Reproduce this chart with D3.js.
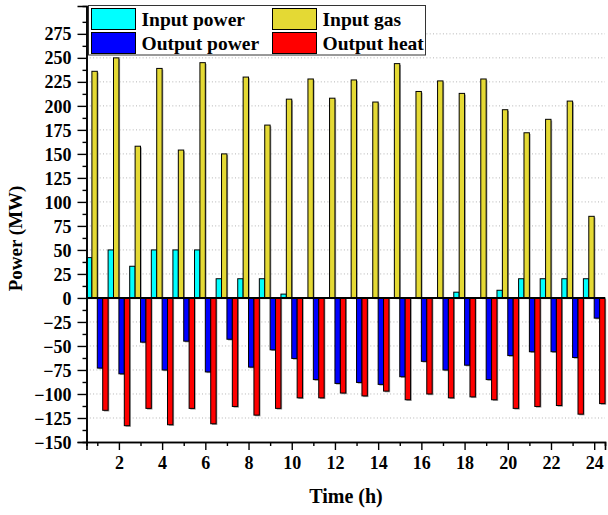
<!DOCTYPE html>
<html>
<head>
<meta charset="utf-8">
<script src="https://cdn.jsdelivr.net/npm/d3@7"></script>
<style>
    body { margin: 0; background: #fff; }
    svg text { font-family: "Liberation Serif", "Times New Roman", serif; font-weight: bold; }
</style>
</head>
<body>
<svg class="chart"></svg>
<script>
// values, one per hour
var hours = d3.range(1, 25);
var inputPower = [42, 50, 33, 50, 50, 50, 20, 20, 20, 4, 0, 0, 0, 0, 0, 0, 0, 6, 0, 8, 20, 20, 20, 20];
var inputGas = [236, 250, 158, 239, 154, 245, 150, 230, 180, 207, 228, 208, 227, 204, 244, 215, 226, 213, 228, 196, 172, 186, 205, 85];
var outputPower = [-73, -79, -46, -75, -45, -77, -43, -72, -54, -63, -85, -89, -88, -90, -82, -66, -75, -70, -85, -60, -56, -56, -62, -21];
var outputHeat = [-117, -133, -115, -132, -115, -131, -113, -122, -115, -104, -104, -99, -102, -97, -106, -100, -104, -103, -106, -115, -113, -112, -121, -110];

var seriesNames = ['Input power', 'Input gas', 'Output power', 'Output heat'];
var seriesColors = ['#00ffff', '#e4d934', '#0000ff', '#ff0000'];
var yTicks = d3.range(-150, 276, 25);
var xTicks = d3.range(2, 25, 2);

function show() {
    'use strict';

    var width = 608, height = 515;
    var svg = d3.select('.chart').attr('width', width).attr('height', height);

    var x = d3.scaleLinear().domain([0.5, 24.5]).range([86.5, 605]);
    var y = d3.scaleLinear().domain([-150, 304]).range([442, 6]);

    var series = [inputPower, inputGas, outputPower, outputHeat];

    // dotted grid
    svg.append('g').selectAll('line')
        .data(yTicks.filter(function (d) { return d !== 0 && d !== -150; }))
        .enter().append('line')
        .attr('x1', x(0.5)).attr('x2', x(24.5))
        .attr('y1', function (d) { return y(d); })
        .attr('y2', function (d) { return y(d); })
        .attr('stroke', '#b4b4b4')
        .attr('stroke-width', 1)
        .attr('stroke-dasharray', '1,2.3');

    // bars, four per hour
    var rows = [];
    series.forEach(function (vals, k) {
        vals.forEach(function (v, i) {
            if (v !== 0) rows.push({ h: hours[i], k: k, v: v });
        });
    });
    function bx(d) { return x(d.h - 0.5 + d.k / 4); }
    function bw(d) { return x(d.h - 0.5 + (d.k + 1) / 4) - bx(d); }

    var bars = svg.append('g');
    bars.selectAll('rect.shadow').data(rows).enter().append('rect')
        .attr('class', 'shadow')
        .attr('x', function (d) { return bx(d) + 1.2; })
        .attr('y', function (d) { return Math.min(y(d.v), y(0)) + 1.2; })
        .attr('width', bw)
        .attr('height', function (d) { return Math.abs(y(d.v) - y(0)); })
        .attr('fill', '#999');
    bars.selectAll('rect.bar').data(rows).enter().append('rect')
        .attr('class', 'bar')
        .attr('x', bx)
        .attr('y', function (d) { return Math.min(y(d.v), y(0)); })
        .attr('width', bw)
        .attr('height', function (d) { return Math.abs(y(d.v) - y(0)); })
        .attr('fill', function (d) { return seriesColors[d.k]; })
        .attr('stroke', '#000')
        .attr('stroke-width', 1);

    // zero line
    svg.append('line')
        .attr('x1', x(0.5)).attr('x2', x(24.5))
        .attr('y1', y(0)).attr('y2', y(0))
        .attr('stroke', '#000').attr('stroke-width', 2);

    // axes
    var yAxis = d3.axisLeft(y).tickValues(yTicks).tickSize(9).tickPadding(6);
    var yMinor = d3.axisLeft(y).tickValues(d3.range(-137.5, 300, 25)).tickSize(4).tickFormat('');
    var xAxis = d3.axisBottom(x).tickValues(xTicks).tickSize(8).tickPadding(6).tickFormat(d3.format('d'));
    var xMinor = d3.axisBottom(x).tickValues(d3.range(1, 24, 2)).tickSize(4).tickFormat('');

    var gy = svg.append('g').attr('transform', 'translate(' + x(0.5) + ',0)').call(yAxis);
    svg.append('g').attr('transform', 'translate(' + x(0.5) + ',0)').call(yMinor);
    var gx = svg.append('g').attr('transform', 'translate(0,' + y(-150) + ')').call(xAxis);
    svg.append('g').attr('transform', 'translate(0,' + y(-150) + ')').call(xMinor);

    svg.selectAll('.domain').attr('stroke', '#000').attr('stroke-width', 1.6);
    svg.selectAll('.tick line').attr('stroke', '#000').attr('stroke-width', 1.4);
    gy.selectAll('text').attr('font-size', 18).attr('fill', '#000').attr('dy', '0.34em');
    gx.selectAll('text').attr('font-size', 18).attr('fill', '#000');

    // axis titles
    svg.append('text')
        .attr('transform', 'translate(22,' + y(62) + ') rotate(-90)')
        .attr('text-anchor', 'middle')
        .attr('font-size', 19)
        .text('Power (MW)');
    svg.append('text')
        .attr('x', 346).attr('y', 503)
        .attr('text-anchor', 'middle')
        .attr('font-size', 20)
        .text('Time (h)');

    // legend
    var legend = svg.append('g').attr('transform', 'translate(88.5,5.5)');
    legend.append('rect')
        .attr('width', 337).attr('height', 49.5)
        .attr('fill', '#fff').attr('stroke', '#333').attr('stroke-width', 1);
    var items = legend.selectAll('g.item').data(seriesNames).enter().append('g')
        .attr('class', 'item')
        .attr('transform', function (d, i) {
            return 'translate(' + (i % 2 === 0 ? 3 : 184) + ',' + (i < 2 ? 3 : 27) + ')';
        });
    items.append('rect')
        .attr('width', 44).attr('height', 21)
        .attr('fill', function (d, i) { return seriesColors[i]; })
        .attr('stroke', '#000').attr('stroke-width', 1);
    items.append('text')
        .attr('x', 50).attr('y', 17.5)
        .attr('font-size', 19.5)
        .text(function (d) { return d; });
}
show();
</script>
</body>
</html>
